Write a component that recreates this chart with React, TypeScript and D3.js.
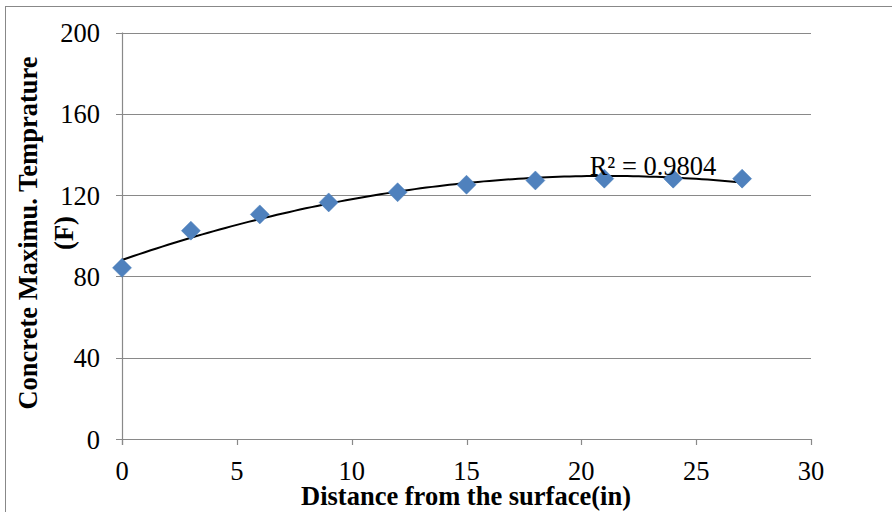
import React from "react";
import * as d3 from "d3";

const distances = [0, 3, 6, 9, 12, 15, 18, 21, 24, 27];
const temps = [84.2, 102.5, 110.5, 116.4, 121.4, 125.1, 127.2, 128.1, 128.1, 128.1];
const xTicks = [0, 5, 10, 15, 20, 25, 30];
const yTicks = [0, 40, 80, 120, 160, 200];
const r2Label = "R² = 0.9804";
const xTitle = "Distance from the surface(in)";
const yTitleLines = ["Concrete Maximu. Temprature", "(F)"];

function polyFit2(xs: number[], ys: number[]) {
  const n = xs.length;
  let s0 = n, s1 = 0, s2 = 0, s3 = 0, s4 = 0, t0 = 0, t1 = 0, t2 = 0;
  for (let i = 0; i < n; i++) {
    const x = xs[i], y = ys[i];
    s1 += x; s2 += x * x; s3 += x ** 3; s4 += x ** 4;
    t0 += y; t1 += x * y; t2 += x * x * y;
  }
  const M = [
    [s0, s1, s2, t0],
    [s1, s2, s3, t1],
    [s2, s3, s4, t2],
  ];
  for (let c = 0; c < 3; c++) {
    for (let r = c + 1; r < 3; r++) {
      const f = M[r][c] / M[c][c];
      for (let k = c; k < 4; k++) M[r][k] -= f * M[c][k];
    }
  }
  const coef = [0, 0, 0];
  for (let r = 2; r >= 0; r--) {
    let s = M[r][3];
    for (let k = r + 1; k < 3; k++) s -= M[r][k] * coef[k];
    coef[r] = s / M[r][r];
  }
  return (x: number) => coef[0] + coef[1] * x + coef[2] * x * x;
}

export default function App() {
  const W = 892, H = 512;
  const left = 122, right = 811, top = 32.5, bottom = 439;
  const x = d3.scaleLinear().domain([0, 30]).range([left, right]);
  const y = d3.scaleLinear().domain([0, 200]).range([bottom, top]);
  const fit = polyFit2(distances, temps);
  const fitPts = d3.range(0, 27.001, 0.25).map((d) => [x(d), y(fit(d))] as [number, number]);
  const line = d3.line();
  const diamond = (cx: number, cy: number, r: number) =>
    `M${cx},${cy - r}L${cx + r},${cy}L${cx},${cy + r}L${cx - r},${cy}Z`;
  const font = "'Liberation Serif', 'Times New Roman', serif";
  const grid = "#898989";
  const fs = 26.5;

  return (
    <svg width={W} height={H} style={{ position: "absolute", left: 0, top: 0 }}>
      <rect x={0} y={0} width={W} height={H} fill="#fff" />
      <rect x={5.5} y={6.5} width={W} height={H} fill="none" stroke="#888" strokeWidth={1} />
      {yTicks.map((t) => (
        <g key={"y" + t}>
          <line x1={left - 6} x2={right} y1={Math.round(y(t)) + 0.5} y2={Math.round(y(t)) + 0.5} stroke={grid} strokeWidth={1.2} />
          <text x={100} y={y(t) + 9.5} textAnchor="end" fontFamily={font} fontSize={fs} fill="#000">{t}</text>
        </g>
      ))}
      <line x1={left + 0.5} x2={left + 0.5} y1={top} y2={bottom + 6} stroke={grid} strokeWidth={1.2} />
      {xTicks.map((t) => (
        <g key={"x" + t}>
          <line x1={Math.round(x(t)) + 0.5} x2={Math.round(x(t)) + 0.5} y1={bottom} y2={bottom + 6} stroke={grid} strokeWidth={1.2} />
          <text x={x(t)} y={480} textAnchor="middle" fontFamily={font} fontSize={fs} fill="#000">{t}</text>
        </g>
      ))}
      <path d={line(fitPts) || ""} fill="none" stroke="#000" strokeWidth={2} />
      {distances.map((d, i) => (
        <path key={i} d={diamond(x(d), y(temps[i]), 9.5)} fill="#4F81BD" stroke="#4A7EBB" strokeWidth={0.5} />
      ))}
      <text x={653} y={175} textAnchor="middle" fontFamily={font} fontSize={fs} fill="#000">{r2Label}</text>
      <text x={466} y={505} textAnchor="middle" fontFamily={font} fontSize={fs} fontWeight="bold" fill="#000">{xTitle}</text>
      <g transform="translate(37,233) rotate(-90)">
        <text x={0} y={0} textAnchor="middle" fontFamily={font} fontSize={fs} fontWeight="bold" fill="#000">{yTitleLines[0]}</text>
        <text x={0} y={36} textAnchor="middle" fontFamily={font} fontSize={fs} fontWeight="bold" fill="#000">{yTitleLines[1]}</text>
      </g>
    </svg>
  );
}
